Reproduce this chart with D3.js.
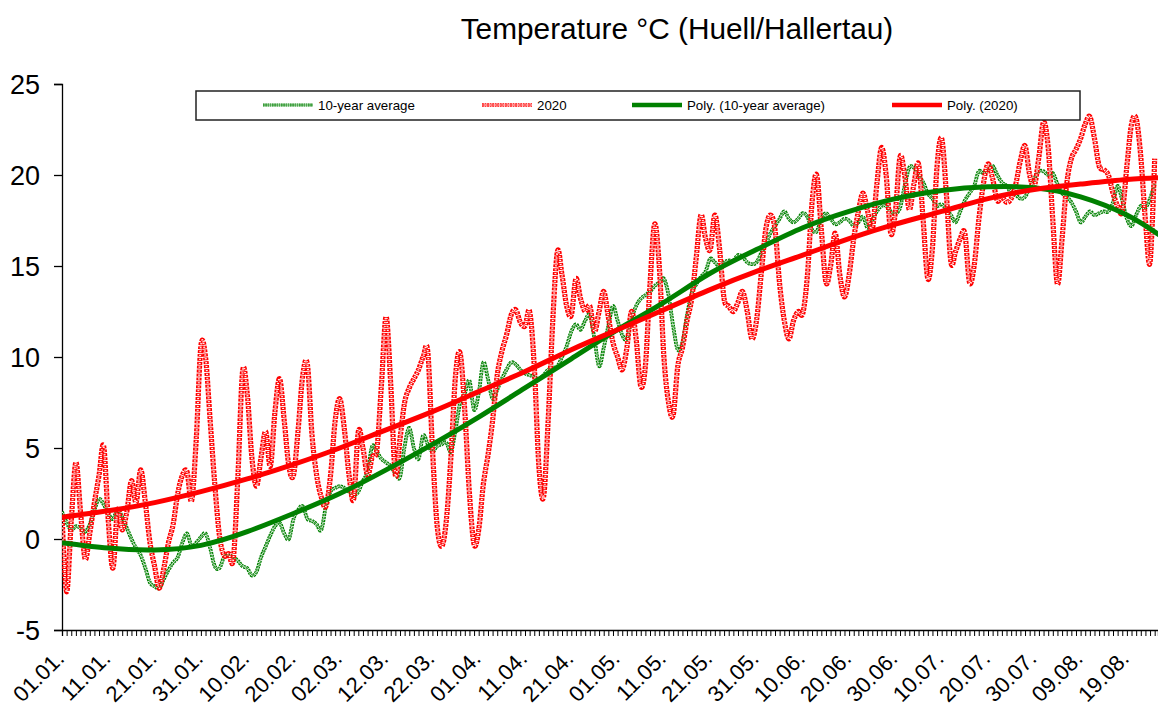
<!DOCTYPE html>
<html>
<head>
<meta charset="utf-8">
<script src="https://cdn.jsdelivr.net/npm/d3@7"></script>
<style>
body { margin: 0; background: #fff; }
text { font-family: "Liberation Sans", Arial, sans-serif; fill: #000; }
</style>
</head>
<body>
<div id="chart"></div>
<script>
// Tick labels, one every 10 days starting 01.01.
var dayLabels = ["01.01.", "11.01.", "21.01.", "31.01.", "10.02.", "20.02.", "02.03.", "12.03.",
    "22.03.", "01.04.", "11.04.", "21.04.", "01.05.", "11.05.", "21.05.", "31.05.", "10.06.",
    "20.06.", "30.06.", "10.07.", "20.07.", "30.07.", "09.08.", "19.08."];

// Daily mean temperature, 10-year average
var avgTemps = [
    1.5, 0.9, 0.5, 0.7, 0.6, 0.4, 0.8, 1.6, 2.2, 1.9,
    1.4, 1.1, 1.6, 1.2, 0.6, 0.0, -0.5, -0.9, -1.6, -2.4,
    -2.6, -2.7, -2.2, -1.7, -1.3, -1.0, -0.2, 0.3, -0.4, -0.2,
    0.1, 0.3, -0.5, -1.5, -1.6, -1.0, -0.9, -1.0, -1.2, -1.5,
    -1.6, -2.0, -1.8, -1.0, -0.4, 0.2, 0.7, 0.9, 0.3, 0.0,
    1.1, 1.6, 1.8, 1.1, 1.0, 0.8, 0.5, 1.8, 2.6, 2.8,
    2.9, 2.8, 2.6, 2.4, 2.6, 3.2, 3.7, 5.1, 4.8, 4.4,
    4.2, 4.0, 3.6, 3.4, 5.1, 6.1, 5.0, 4.4, 5.7, 5.2,
    4.8, 5.1, 5.2, 5.3, 4.8, 6.0, 7.5, 8.0, 8.7, 7.1,
    8.0, 9.7, 8.8, 7.7, 8.2, 8.8, 9.3, 9.7, 9.6, 9.3,
    9.1, 9.0, 8.9, 8.8, 9.0, 9.3, 9.4, 9.5, 10.0, 10.6,
    11.4, 11.8, 11.5, 12.0, 12.3, 11.0, 9.5, 10.5, 11.7, 12.8,
    12.0, 11.2, 11.0, 12.1, 12.8, 13.2, 13.4, 13.6, 13.9, 14.1,
    14.3, 13.4, 11.7, 10.4, 10.8, 12.3, 13.5, 14.0, 14.4, 14.7,
    15.4, 15.2, 15.0, 15.2, 15.3, 15.3, 15.6, 15.5, 15.2, 15.1,
    15.2, 15.7, 16.2, 16.8, 17.2, 17.6, 18.0, 17.6, 17.4, 17.6,
    17.9, 17.7, 17.0, 16.9, 17.6, 17.9, 17.6, 17.3, 17.4, 17.6,
    17.5, 17.2, 17.4, 17.7, 17.1, 17.5, 18.0, 18.3, 18.3, 18.0,
    17.9, 18.2, 19.4, 20.4, 20.4, 20.0, 19.6, 19.0, 18.7, 18.3,
    18.4, 18.1, 17.8, 17.4, 18.0, 18.6, 19.0, 19.4, 20.2, 20.1,
    20.3, 20.5, 20.0, 19.6, 19.4, 19.0, 18.9, 18.7, 18.8, 19.3,
    19.8, 20.2, 20.2, 20.0, 20.1, 19.5, 19.0, 18.8, 18.5, 18.0,
    17.4, 17.7, 18.0, 17.8, 17.9, 18.0, 18.0, 18.5, 19.4, 18.6,
    17.6, 17.2, 17.8, 18.3, 18.2, 18.7, 19.5
];

// Daily mean temperature, 2020
var temps2020 = [
    1.3, -2.9, 1.0, 4.2, 1.5, -1.1, 0.3, 2.0, 3.5, 5.1,
    1.0, -1.6, 1.6, 0.5, 1.5, 3.2, 2.0, 3.8, 2.0, -0.2,
    -1.5, -2.7, -1.6, -0.2, 0.8, 2.5, 3.5, 3.7, 2.1, 5.5,
    10.6, 10.0, 6.5, 3.0, 0.2, -0.9, -0.8, -1.1, 3.5, 9.2,
    8.0, 4.5, 2.9, 4.5, 5.9, 4.0, 7.0, 8.8, 6.5, 4.0,
    3.5, 6.0, 9.0, 9.6, 5.7, 3.5, 2.3, 1.8, 3.5, 6.5,
    7.7, 6.0, 3.5, 2.2, 5.9, 5.0, 3.5, 4.5, 4.9, 8.5,
    12.2, 8.5, 3.5, 5.5, 7.5, 8.3, 8.8, 9.3, 10.0, 10.3,
    5.0, 0.8, -0.4, 1.0, 4.5, 9.0, 10.2, 7.0, 2.5, -0.3,
    0.5, 3.0, 4.6, 6.5, 9.0, 10.3, 11.2, 12.3, 12.6, 11.9,
    11.7, 12.5, 9.5, 4.0, 2.3, 6.5, 12.0, 15.8, 14.5, 12.8,
    12.3, 14.3, 13.2, 12.5, 12.8, 11.4, 12.5, 13.6, 12.2, 10.8,
    10.0, 9.3, 10.5, 12.5, 11.0, 8.4, 9.5, 14.0, 17.3, 15.0,
    10.0, 7.5, 6.8, 9.5, 10.5, 12.0, 13.2, 15.5, 17.8, 16.5,
    15.9, 17.8, 16.0, 13.2, 12.8, 12.5, 13.0, 13.6, 12.5, 11.0,
    12.0, 14.5, 17.0, 17.8, 17.0, 14.0, 12.0, 11.0, 12.0, 12.5,
    12.4, 14.5, 18.5, 20.0, 17.0, 14.1, 15.0, 16.8, 14.5, 13.3,
    14.5, 16.5, 18.0, 19.0, 18.0, 17.0, 19.5, 21.5, 20.0, 16.8,
    18.0, 21.0, 20.0, 18.1, 19.5, 20.6, 17.5, 14.3, 16.0, 20.5,
    22.0, 19.0, 15.2, 15.8, 16.5, 16.8, 14.1, 15.0, 17.5, 19.5,
    20.6, 19.8, 18.6, 18.8, 18.5, 18.7, 19.5, 20.8, 21.6, 20.0,
    19.4, 21.0, 22.9, 21.5, 17.5, 14.0, 16.5, 19.5, 20.9, 21.4,
    22.0, 22.8, 23.2, 22.0, 20.5, 20.3, 20.0, 19.0, 18.3, 18.0,
    20.5, 22.8, 23.1, 21.0, 17.5, 15.2, 20.9
];

var trendDays = [0, 10, 20, 30, 40, 50, 60, 70, 80, 90, 100, 110, 120, 130, 140, 150, 160, 170, 180, 190, 200, 210, 220, 230, 237];
var avgTrend = [-0.2, -0.5, -0.6, -0.35, 0.4, 1.4, 2.5, 3.8, 5.2, 6.7, 8.3, 9.9, 11.5, 13.0, 14.6, 15.9, 17.1, 18.0, 18.7, 19.15, 19.35, 19.3, 18.8, 17.8, 16.7];
var trend2020 = [1.2, 1.55, 2.0, 2.6, 3.3, 4.1, 5.0, 6.0, 7.0, 8.1, 9.2, 10.4, 11.5, 12.6, 13.7, 14.7, 15.6, 16.5, 17.3, 18.0, 18.7, 19.2, 19.5, 19.75, 19.85];

var seriesNames = ["10-year average", "2020", "Poly. (10-year average)", "Poly. (2020)"];

var width = 1158, height = 709;
var plotLeft = 62, plotRight = 1158, plotTop = 84, plotBottom = 630;
var pxPerDay = 4.63;
var lastDay = (plotRight - plotLeft) / pxPerDay;

var svg = d3.select("#chart").append("svg")
    .attr("width", width)
    .attr("height", height)
    .style("display", "block")
    .style("background", "#fff");

var x = d3.scaleLinear().domain([0, lastDay]).range([plotLeft, plotRight]);
var y = d3.scaleLinear().domain([-5, 25]).range([plotBottom, plotTop]);

svg.append("defs").append("clipPath").attr("id", "plotClip")
    .append("rect")
    .attr("x", plotLeft).attr("y", 0)
    .attr("width", plotRight - plotLeft).attr("height", plotBottom);

// Title
svg.append("text")
    .attr("x", 677)
    .attr("y", 39)
    .attr("text-anchor", "middle")
    .style("font-size", "29.8px")
    .text("Temperature °C (Huell/Hallertau)");

// Y axis
var yAxis = svg.append("g")
    .attr("transform", "translate(" + plotLeft + ",0)")
    .call(d3.axisLeft(y).tickValues(d3.range(-5, 26, 5)).tickSize(8).tickPadding(14)
        .tickFormat(function(d) { return String(d); }));
yAxis.select(".domain").attr("stroke", "#000").attr("stroke-width", 1.3);
yAxis.selectAll(".tick line").attr("stroke", "#000").attr("stroke-width", 1.3);
yAxis.selectAll("text").style("font-size", "27px").attr("dy", "0.36em");

// X axis: a small tick for every day
var xAxis = svg.append("g")
    .attr("transform", "translate(0," + plotBottom + ")")
    .call(d3.axisBottom(x).tickValues(d3.range(0, Math.floor(lastDay) + 1)).tickSize(6).tickFormat(""));
xAxis.select(".domain").attr("stroke", "#000").attr("stroke-width", 1.3);
xAxis.selectAll(".tick line").attr("stroke", "#000").attr("stroke-width", 1);

// X labels, every 10 days, rotated
var labelAxis = svg.append("g")
    .attr("transform", "translate(0," + plotBottom + ")")
    .call(d3.axisBottom(x)
        .tickValues(dayLabels.map(function(d, i) { return i * 10; }))
        .tickSize(0)
        .tickFormat(function(d, i) { return dayLabels[i]; }));
labelAxis.select(".domain").remove();
labelAxis.selectAll("text")
    .attr("x", 0).attr("y", 0).attr("dy", null)
    .attr("transform", "translate(3,30) rotate(-45)")
    .style("text-anchor", "end")
    .style("font-size", "22px");

var plot = svg.append("g").attr("clip-path", "url(#plotClip)");

var dailyLine = d3.line()
    .x(function(d, i) { return x(i); })
    .y(function(d) { return y(d); })
    .curve(d3.curveCardinal);

var trendLine = d3.line()
    .x(function(d, i) { return x(trendDays[i]); })
    .y(function(d) { return y(d); })
    .curve(d3.curveNatural);

// Excel style "round dot" line: a coloured dash chain with pale centres
function dottedPath(g, pathData, color, inner, w) {
    var dash = w * 0.55, gap = w * 0.2;
    g.append("path")
        .attr("d", pathData)
        .attr("fill", "none")
        .attr("stroke", color)
        .attr("stroke-width", w)
        .attr("stroke-dasharray", dash + "," + gap);
    g.append("path")
        .attr("d", pathData)
        .attr("fill", "none")
        .attr("stroke", inner)
        .attr("stroke-width", w * 0.38)
        .attr("stroke-dasharray", (dash * 0.4) + "," + (dash * 0.6 + gap))
        .attr("stroke-dashoffset", -dash * 0.3);
}

dottedPath(plot, dailyLine(avgTemps), "#008000", "#e4f4e4", 3.8);
dottedPath(plot, dailyLine(temps2020), "#ff0000", "#fff0f0", 5.2);

plot.append("path")
    .attr("d", trendLine(avgTrend))
    .attr("fill", "none")
    .attr("stroke", "#008000")
    .attr("stroke-width", 5);
plot.append("path")
    .attr("d", trendLine(trend2020))
    .attr("fill", "none")
    .attr("stroke", "#ff0000")
    .attr("stroke-width", 5);

// Legend
var legend = svg.append("g");
legend.append("rect")
    .attr("x", 196).attr("y", 91)
    .attr("width", 884).attr("height", 29)
    .attr("fill", "#fff")
    .attr("stroke", "#222")
    .attr("stroke-width", 1.5);

var legendX = [263, 482, 632, 892];
seriesNames.forEach(function(name, i) {
    var lx = legendX[i], ly = 105;
    var sample = "M" + lx + "," + ly + "H" + (lx + 50);
    if (i == 0) dottedPath(legend, sample, "#008000", "#e4f4e4", 3);
    else if (i == 1) dottedPath(legend, sample, "#ff0000", "#fff0f0", 3.4);
    else {
        legend.append("path")
            .attr("d", sample)
            .attr("stroke", i == 2 ? "#008000" : "#ff0000")
            .attr("stroke-width", 4.5);
    }
    legend.append("text")
        .attr("x", lx + 55)
        .attr("y", ly)
        .attr("dy", "0.35em")
        .style("font-size", "13.3px")
        .text(name);
});
</script>
</body>
</html>
